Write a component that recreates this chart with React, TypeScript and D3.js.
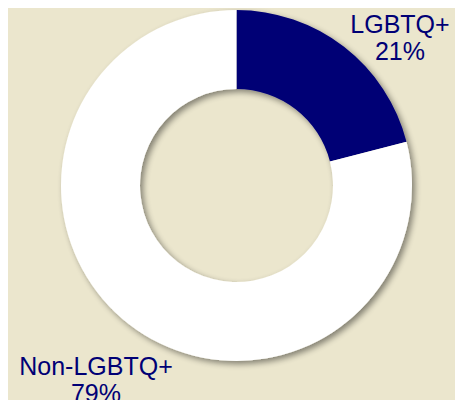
import React from "react";
import * as d3 from "d3";

const categories = ["LGBTQ+", "Non-LGBTQ+"];
const values = [21, 79];
const colors = ["#000075", "#ffffff"];

const W = 452;
const H = 400;
const cx = 228.5;
const cy = 185.5;
const outerR = 175.5;
const innerR = 96.5;

// label anchor positions (svg coords)
const labelPos = [
  { x: 392, y: 33 },
  { x: 88, y: 375 },
];

export default function App() {
  const pie = d3
    .pie<number>()
    .sort(null)
    .value((d) => d);
  const arcs = pie(values);
  const arc = d3.arc<d3.PieArcDatum<number>>().innerRadius(innerR).outerRadius(outerR);

  return (
    <svg
      width={W}
      height={H}
      style={{ display: "block", marginTop: -8, background: "#ebe6cd" }}
    >
      <defs>
        <filter id="sh" x="-20%" y="-20%" width="140%" height="140%">
          <feGaussianBlur in="SourceAlpha" stdDeviation="3" />
          <feOffset dx="3" dy="3" result="ob" />
          <feComponentTransfer>
            <feFuncA type="linear" slope="0.45" />
          </feComponentTransfer>
          <feMerge>
            <feMergeNode />
            <feMergeNode in="SourceGraphic" />
          </feMerge>
        </filter>
      </defs>
      <rect x={0} y={0} width={W} height={H} fill="#ebe6cd" />
      <g transform={`translate(${cx},${cy})`} filter="url(#sh)">
        {arcs.map((a, i) => (
          <path key={categories[i]} d={arc(a) || ""} fill={colors[i]} />
        ))}
      </g>
      {categories.map((c, i) => (
        <text
          key={c}
          x={labelPos[i].x}
          y={labelPos[i].y}
          textAnchor="middle"
          fill="#000075"
          fontFamily="Liberation Sans, Arial, sans-serif"
          fontSize={25}
        >
          <tspan x={labelPos[i].x}>{c}</tspan>
          <tspan x={labelPos[i].x} dy={27}>
            {values[i]}%
          </tspan>
        </text>
      ))}
    </svg>
  );
}
